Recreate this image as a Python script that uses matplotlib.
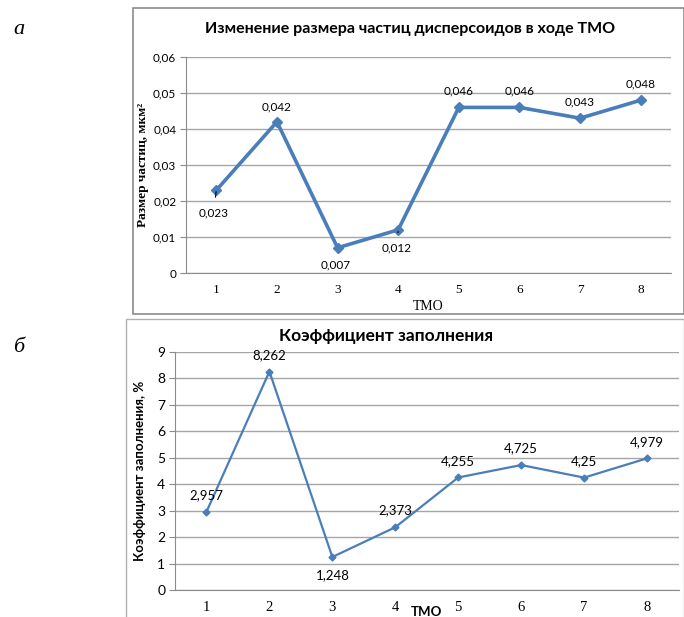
import matplotlib
matplotlib.use("Agg")
import matplotlib.pyplot as plt
from matplotlib.patches import Rectangle

# данные
tmo = [1, 2, 3, 4, 5, 6, 7, 8]
size_vals = [0.023, 0.042, 0.007, 0.012, 0.046, 0.046, 0.043, 0.048]
size_labels = ["0,023", "0,042", "0,007", "0,012", "0,046", "0,046", "0,043", "0,048"]
fill_vals = [2.957, 8.262, 1.248, 2.373, 4.255, 4.725, 4.25, 4.979]
fill_labels = ["2,957", "8,262", "1,248", "2,373", "4,255", "4,725", "4,25", "4,979"]
size_ticks = [0, 0.01, 0.02, 0.03, 0.04, 0.05, 0.06]
size_ticklabels = ["0", "0,01", "0,02", "0,03", "0,04", "0,05", "0,06"]
fill_ticks = list(range(10))

W, H = 684, 617
blue = "#4a7ebb"
grid_c = "#a6a6a6"
serif = "Liberation Serif"
sans = "Lato"

fig = plt.figure(figsize=(W / 100, H / 100), dpi=100)


def fx(px):
    return px / W


def fy(py):
    return 1 - py / H


# рамки вокруг диаграмм
fig.patches.append(Rectangle((fx(133), fy(314)), fx(684) - fx(133), fy(8) - fy(314),
                             transform=fig.transFigure, fill=False, ec="#8c8c8c", lw=1.2))
fig.patches.append(Rectangle((fx(126), fy(640)), fx(684) - fx(126), fy(319) - fy(640),
                             transform=fig.transFigure, fill=False, ec="#b0b0b0", lw=1.0))

fig.text(fx(13), fy(30), "а", family=serif, style="italic", fontsize=16, va="center", ha="left")
fig.text(fx(13), fy(348), "б", family=serif, style="italic", fontsize=16, va="center", ha="left")


def style_axes(ax):
    for s in ["top", "right"]:
        ax.spines[s].set_visible(False)
    ax.spines["left"].set_color("#8c8c8c")
    ax.spines["bottom"].set_color("#8c8c8c")
    ax.yaxis.grid(True, color=grid_c, lw=1.0)
    ax.set_axisbelow(True)
    ax.tick_params(axis="y", length=4, color="#8c8c8c", pad=3)
    ax.tick_params(axis="x", length=0, pad=8)


# --- а ---
ax1 = fig.add_axes([fx(186), fy(273), fx(671) - fx(186), fy(57) - fy(273)])
ax1.plot(tmo, size_vals, color=blue, lw=2.6, marker="D", ms=5.5, zorder=3)
ax1.set_xlim(0.5, 8.5)
ax1.set_ylim(0, 0.06)
ax1.set_yticks(size_ticks)
ax1.set_yticklabels(size_ticklabels, family=sans, fontsize=8.5)
ax1.set_xticks(tmo)
ax1.set_xticklabels([str(t) for t in tmo], family=serif, fontsize=9.5)
style_axes(ax1)
ax1.set_xlabel("ТМО", family=serif, fontsize=10, labelpad=3)
ax1.set_ylabel("Размер частиц, мкм²", family=serif, fontweight="bold", fontsize=9.5, labelpad=3)
ax1.set_title("Изменение размера частиц дисперсоидов в ходе ТМО", family=sans,
              fontweight="bold", fontsize=11.5, pad=17, x=0.462)

a_offsets = [(-2, -16), (0, 11), (-1, -12), (-1, -13), (0, 12), (0, 12), (0, 12), (0, 12)]
for x, y, lab, off in zip(tmo, size_vals, size_labels, a_offsets):
    if lab in ("0,023", "0,012"):
        ax1.annotate(lab, (x, y), xytext=off, textcoords="offset points", ha="center", va="center",
                     family=sans, fontsize=8.5,
                     arrowprops=dict(arrowstyle="-", color="black", lw=0.8, shrinkA=5, shrinkB=1))
    else:
        ax1.annotate(lab, (x, y), xytext=off, textcoords="offset points", ha="center", va="center",
                     family=sans, fontsize=8.5)

# --- б ---
ax2 = fig.add_axes([fx(175), fy(590), fx(678.5) - fx(175), fy(352) - fy(590)])
ax2.plot(tmo, fill_vals, color=blue, lw=1.6, marker="D", ms=3.5, zorder=3)
ax2.set_xlim(0.5, 8.5)
ax2.set_ylim(0, 9)
ax2.set_yticks(fill_ticks)
ax2.set_yticklabels([str(t) for t in fill_ticks], family=sans, fontsize=10)
ax2.set_xticks(tmo)
ax2.set_xticklabels([str(t) for t in tmo], family=serif, fontsize=10.5)
style_axes(ax2)
ax2.set_xlabel("ТМО", family=sans, fontweight="bold", fontsize=9.5, labelpad=-6)
ax2.set_ylabel("Коэффициент заполнения, %", family=sans, fontweight="bold", fontsize=9.5, labelpad=8)
ax2.set_title("Коэффициент заполнения", family=sans, fontweight="bold", fontsize=12.5, pad=8, x=0.42)

for x, y, lab in zip(tmo, fill_vals, fill_labels):
    dy = -13 if lab == "1,248" else 12
    ax2.annotate(lab, (x, y), xytext=(0, dy), textcoords="offset points", ha="center", va="center",
                 family=sans, fontsize=9.5)

fig.savefig("out.png", dpi=100)
